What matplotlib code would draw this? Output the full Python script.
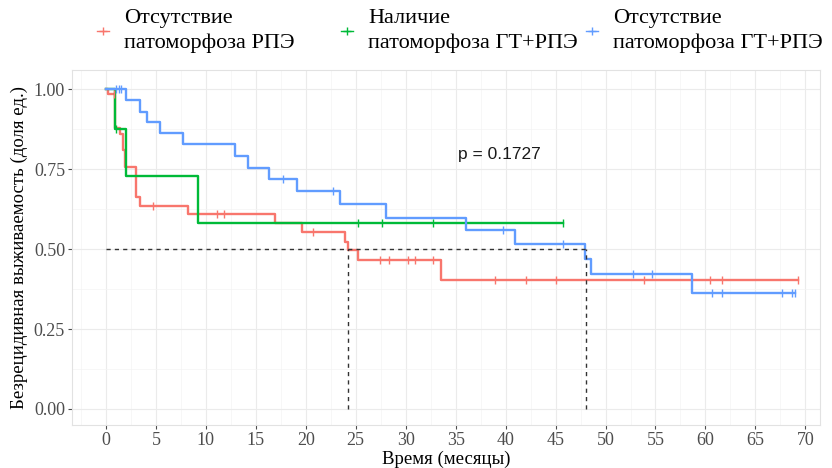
import numpy as np
import matplotlib
matplotlib.use("Agg")
import matplotlib.pyplot as plt
from matplotlib.lines import Line2D
from matplotlib.ticker import MultipleLocator

# Kaplan-Meier step data: event times and survival after each step
red_t = [0, 0.2, 0.9, 1.4, 1.7, 1.9, 3.0, 3.4, 8.2, 16.9, 19.6, 23.9, 24.2, 25.2, 33.5, 69.3]
red_s = [1.0, 0.985, 0.88, 0.86, 0.81, 0.757, 0.662, 0.635, 0.609, 0.583, 0.554, 0.523, 0.497, 0.466, 0.405, 0.405]
red_cens = [0.8, 4.7, 11.1, 11.8, 20.7, 27.4, 28.3, 30.2, 30.9, 32.7, 38.9, 42.0, 45.0, 53.9, 60.5, 61.7, 69.3]

green_t = [0, 0.9, 2.0, 9.2, 45.7]
green_s = [1.0, 0.875, 0.729, 0.583, 0.583]
green_cens = [1.0, 25.2, 27.6, 32.7, 45.7]

blue_t = [0, 2.0, 3.4, 4.1, 5.4, 7.7, 12.9, 14.2, 16.3, 19.1, 23.45, 28.0, 36.0, 40.9, 47.9, 48.5, 58.7, 69.0]
blue_s = [1.0, 0.966, 0.929, 0.897, 0.862, 0.828, 0.79, 0.754, 0.719, 0.681, 0.64, 0.598, 0.559, 0.516, 0.469, 0.422, 0.362, 0.362]
blue_cens = [1.0, 1.3, 1.5, 17.7, 22.7, 39.7, 45.7, 52.7, 54.7, 60.7, 61.7, 67.7, 68.7, 69.0]

labels = ["Отсутствие\nпатоморфоза РПЭ",
          "Наличие\nпатоморфоза ГТ+РПЭ",
          "Отсутствие\nпатоморфоза ГТ+РПЭ"]
colors = ["#F8766D", "#00BA38", "#619CFF"]

median_times = [24.2, 48.0]
p_text = "p = 0.1727"

x_ticks = list(range(0, 75, 5))
y_ticks = [0.0, 0.25, 0.5, 0.75, 1.0]

serif = ["Liberation Serif", "DejaVu Serif"]
sans = ["Liberation Sans", "DejaVu Sans"]

W, H = 832, 468
fig = plt.figure(figsize=(W / 100, H / 100), dpi=100)
ax = fig.add_axes([0.0865, 0.092, 0.8995, 0.758])

# grid
ax.set_axisbelow(True)
ax.xaxis.set_minor_locator(MultipleLocator(2.5))
ax.yaxis.set_minor_locator(MultipleLocator(0.125))
ax.grid(which="major", color="#EBEBEB", lw=0.8)
ax.grid(which="minor", color="#F4F4F4", lw=0.5)
for sp in ax.spines.values():
    sp.set_color("#E2E2E2")
    sp.set_linewidth(0.8)

def level_at(ts, ss, t):
    idx = np.searchsorted(ts, t, side="right") - 1
    return ss[idx]

series = [(red_t, red_s, red_cens), (green_t, green_s, green_cens), (blue_t, blue_s, blue_cens)]
for (ts, ss, cs), col in zip(series, colors):
    ax.step(ts, ss, where="post", color=col, lw=1.7, zorder=3)
    cy = [level_at(ts, ss, c) for c in cs]
    ax.plot(cs, cy, ls="none", marker="|", ms=6, mew=1.0, color=col, zorder=4)

# median reference lines
ax.plot([0, max(median_times)], [0.5, 0.5], ls=(0, (3, 3)), color="#333333", lw=1.0, zorder=5)
for m in median_times:
    ax.plot([m, m], [0, 0.5], ls=(0, (3, 3)), color="#333333", lw=1.0, zorder=5)

ax.text(39.4, 0.795, p_text, fontsize=12.5, family=sans, ha="center", va="center", color="#1a1a1a")

ax.set_xlim(-3.4, 71.5)
ax.set_ylim(-0.05, 1.06)
ax.set_xticks(x_ticks)
ax.set_yticks(y_ticks)
ax.set_yticklabels([f"{v:.2f}" for v in y_ticks])
ax.tick_params(which="major", length=3, color="#4D4D4D", labelsize=13, labelcolor="#4D4D4D", pad=2)
ax.tick_params(which="minor", length=0)
for lab in ax.get_xticklabels() + ax.get_yticklabels():
    lab.set_family(serif)

ax.set_xlabel("Время (месяцы)", fontsize=13.5, family=serif, labelpad=1)
ax.set_ylabel("Безрецидивная выживаемость (доля ед.)", fontsize=13.5, family=serif, labelpad=4)

# legend row across the top: key glyph + two-line label per group
key_x = [103, 347, 592]
key_y = 31
for kx, col, lab in zip(key_x, colors, labels):
    fig.add_artist(Line2D([(kx - 6) / W, (kx + 6) / W], [1 - key_y / H] * 2,
                          transform=fig.transFigure, color=col, lw=1.0))
    fig.add_artist(Line2D([kx / W], [1 - key_y / H], transform=fig.transFigure,
                          color=col, marker="+", ms=6, mew=1.0, ls="none"))
    fig.text((kx + 21) / W, 1 - key_y / H, lab, ha="left", va="center",
             family=serif, fontsize=16, linespacing=1.32, color="black")

fig.savefig("out.png", dpi=100, facecolor="white")
